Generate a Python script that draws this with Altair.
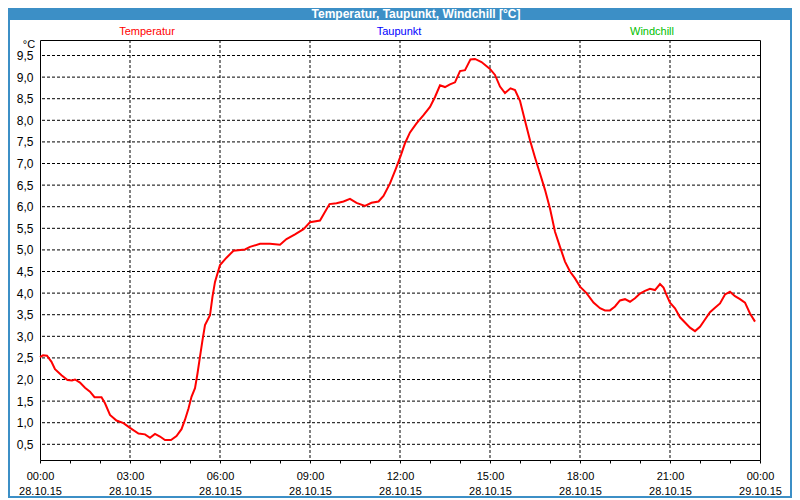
import altair as alt
import pandas as pd

# ---- data (minutes after 28.10.15 00:00, °C) ----
minutes = [0, 6, 14, 23, 30, 43, 55, 64, 70, 80,
           90, 100, 109, 123, 130, 140, 153, 167, 180, 197,
           210, 220, 230, 240, 250, 262, 273, 283, 290, 297,
           303, 310, 315, 320, 325, 330, 340, 345, 350, 360,
           373, 387, 410, 420, 440, 460, 480, 493, 510, 527,
           540, 560, 579, 593, 607, 620, 633, 650, 663, 677,
           687, 700, 712, 722, 730, 740, 753, 767, 780, 790,
           800, 810, 820, 830, 840, 850, 861, 870, 883, 900,
           910, 920, 930, 941, 950, 960, 970, 980, 990, 1000,
           1010, 1020, 1030, 1040, 1050, 1060, 1070, 1080, 1093, 1107,
           1120, 1130, 1140, 1150, 1160, 1170, 1180, 1190, 1200, 1210,
           1220, 1230, 1240, 1247, 1253, 1260, 1270, 1280, 1290, 1300,
           1310, 1320, 1330, 1340, 1350, 1360, 1370, 1380, 1390, 1400,
           1410, 1420, 1430]
temperatur = [2.52, 2.56, 2.55, 2.41, 2.24, 2.10, 1.99, 1.98, 2.00, 1.93,
              1.81, 1.72, 1.59, 1.59, 1.45, 1.18, 1.05, 0.99, 0.88, 0.75,
              0.73, 0.65, 0.74, 0.68, 0.60, 0.60, 0.69, 0.85, 1.07, 1.33,
              1.60, 1.80, 2.14, 2.53, 2.91, 3.26, 3.49, 3.92, 4.26, 4.65,
              4.82, 4.98, 5.01, 5.07, 5.14, 5.14, 5.12, 5.25, 5.36, 5.48,
              5.64, 5.68, 6.06, 6.08, 6.12, 6.18, 6.09, 6.02, 6.09, 6.12,
              6.25, 6.54, 6.89, 7.20, 7.47, 7.72, 7.93, 8.12, 8.31, 8.54,
              8.81, 8.77, 8.83, 8.88, 9.14, 9.16, 9.41, 9.42, 9.35, 9.19,
              9.05, 8.78, 8.63, 8.74, 8.70, 8.45, 7.99, 7.54, 7.14, 6.77,
              6.39, 5.96, 5.42, 5.07, 4.73, 4.50, 4.34, 4.15, 4.00, 3.78,
              3.65, 3.60, 3.60, 3.69, 3.83, 3.86, 3.80, 3.88, 3.99, 4.05,
              4.10, 4.07, 4.21, 4.13, 3.96, 3.78, 3.65, 3.44, 3.32, 3.20,
              3.12, 3.22, 3.39, 3.56, 3.66, 3.76, 3.97, 4.03, 3.93, 3.86,
              3.78, 3.53, 3.34]

y_ticks = [0.5, 1.0, 1.5, 2.0, 2.5, 3.0, 3.5, 4.0, 4.5, 5.0,
           5.5, 6.0, 6.5, 7.0, 7.5, 8.0, 8.5, 9.0, 9.5]
hour_ticks = list(range(0, 1441, 60))
v_grid = [180, 360, 540, 720, 900, 1080, 1260]

title_text = "Temperatur, Taupunkt, Windchill [°C]"
legend_names = ["Temperatur", "Taupunkt", "Windchill"]
legend_colors = ["#ff0000", "#0000ff", "#00c000"]
legend_x = [107, 359, 612]  # layout positions (plot pixels)

BLUE = "#3c8fc6"
FONT = "Liberation Sans"

df = pd.DataFrame({"t": minutes, "temp": temperatur})
df_h = pd.DataFrame({"v": y_ticks})
df_v = pd.DataFrame({"t": v_grid})
one = pd.DataFrame({"a": [0]})

x_scale = alt.Scale(domain=[0, 1440], nice=False, zero=False)
y_scale = alt.Scale(domain=[0.137, 9.859], nice=False, zero=False)

x_axis = alt.Axis(
    values=hour_ticks, title=None, domain=False, grid=False,
    ticks=True, tickSize=3, tickColor="black",
    labelExpr=("datum.value % 180 == 0 ? "
               "[(floor(datum.value/60)%24 < 10 ? '0' : '') + (floor(datum.value/60)%24) + ':00', "
               "datum.value >= 1440 ? '29.10.15' : '28.10.15'] : ''"),
    labelOverlap=False, labelFlush=False, labelBound=False,
    labelPadding=7, labelLineHeight=15, labelFont=FONT, labelFontSize=11,
    labelColor="black", zindex=1,
)
y_axis = alt.Axis(
    values=y_ticks, title=None, domain=False, grid=False, ticks=False,
    labelExpr="replace(format(datum.value, '.1f'), '.', ',')",
    labelOverlap=False, labelPadding=7, labelFont=FONT, labelFontSize=12,
    labelColor="black", zindex=1,
)

X = lambda f: alt.X(f, scale=x_scale, axis=x_axis)
Y = lambda f: alt.Y(f, scale=y_scale, axis=y_axis)

frame = alt.Chart(one).mark_rect(filled=False, stroke=BLUE, strokeWidth=2).encode(
    x=alt.value(-31), x2=alt.value(751), y=alt.value(-31), y2=alt.value(457))

bar = alt.Chart(one).mark_rect(color=BLUE).encode(
    x=alt.value(-32), x2=alt.value(752), y=alt.value(-32), y2=alt.value(-20))

title = alt.Chart(one).mark_text(
    text=title_text, color="white", font=FONT, fontSize=12, fontWeight="bold",
    align="center", baseline="middle").encode(
    x=alt.value(376), y=alt.value(-26))

hgrid = alt.Chart(df_h).mark_rule(color="black", strokeDash=[3, 2], strokeWidth=1).encode(
    y=Y("v:Q"))
vgrid = alt.Chart(df_v).mark_rule(color="black", strokeDash=[3, 2], strokeWidth=1).encode(
    x=X("t:Q"))

line = alt.Chart(df).mark_line(color="#ff0000", strokeWidth=2, interpolate="linear").encode(
    x=X("t:Q"), y=Y("temp:Q"))

unit = alt.Chart(one).mark_text(text="°C", font=FONT, fontSize=11, color="black",
                                align="center", baseline="middle").encode(
    x=alt.value(-11), y=alt.value(5))

legend_layers = []
for name, col, lx in zip(legend_names, legend_colors, legend_x):
    legend_layers.append(
        alt.Chart(one).mark_text(text=name, color=col, font=FONT, fontSize=11,
                                 align="center", baseline="middle").encode(
            x=alt.value(lx), y=alt.value(-8)))

chart = alt.layer(frame, bar, title, hgrid, vgrid, line, unit, *legend_layers).properties(
    width=720, height=420,
    padding={"left": 32, "top": 32, "right": 32, "bottom": 38},
    autosize=alt.AutoSizeParams(type="none"),
    background="white",
).configure_view(stroke="black", strokeWidth=1)

chart.save("out.html", embed_options={"renderer": "svg", "actions": False})
